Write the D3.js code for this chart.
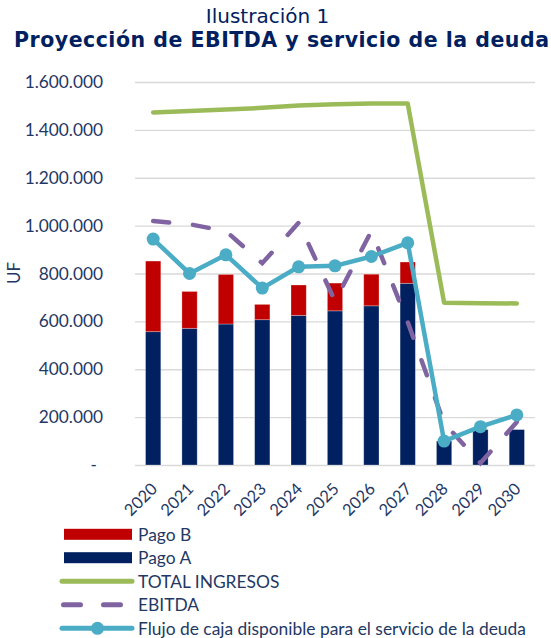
<!DOCTYPE html>
<html>
<head>
<meta charset="utf-8">
<script src="https://cdn.jsdelivr.net/npm/d3@7"></script>
<style>
  html, body { margin: 0; padding: 0; background: #ffffff; }
  svg { display: block; }
</style>
</head>
<body>
<script>
const years = ["2020","2021","2022","2023","2024","2025","2026","2027","2028","2029","2030"];
const pagoA = [557000, 571000, 589000, 607000, 625000, 644000, 665000, 759000, 100000, 148000, 148000];
const pagoB = [295000, 154000, 207000, 64000, 127000, 116000, 132000, 89000, 0, 0, 0];
const totalIngresos = [1473000, 1479000, 1485000, 1492000, 1502000, 1507000, 1510000, 1510000, 678000, 676000, 675000];
const ebitda = [1019000, 1006000, 977000, 843000, 1012000, 685000, 977000, 597000, 175000, 8000, 180000];
const flujo = [944000, 800000, 878000, 739000, 828000, 832000, 871000, 928000, 100000, 160000, 209000];
const yTicks = [0, 200000, 400000, 600000, 800000, 1000000, 1200000, 1400000, 1600000];

const W = 551, H = 638;
const C = { red: "#C00000", navy: "#002060", green: "#9BBB59", purple: "#8064A2", teal: "#4BACC6",
            grid: "#D9D9D9", text: "#1F3864", title: "#002060" };
const LABEL_FONT = "Lato, 'Noto Sans', sans-serif";

const svg = d3.select("body").append("svg").attr("width", W).attr("height", H);

// Titles
svg.append("text").attr("x", 267.5).attr("y", 22.5).attr("text-anchor", "middle")
  .attr("font-family", "'DejaVu Sans', Verdana, sans-serif").attr("font-size", 20)
  .attr("fill", C.title).text("Ilustración 1");
svg.append("text").attr("x", 281.5).attr("y", 46.5).attr("text-anchor", "middle")
  .attr("font-family", "'DejaVu Sans', Verdana, sans-serif").attr("font-size", 20.5).attr("font-weight", "bold")
  .attr("textLength", 535).attr("lengthAdjust", "spacing")
  .attr("fill", C.title).text("Proyección de EBITDA y servicio de la deuda");

const x = d3.scaleBand().domain(years).range([135, 535]).paddingInner(0.58).paddingOuter(0.29);
const y = d3.scaleLinear().domain([0, 1600000]).range([465, 82]);

// Gridlines
const grid = svg.append("g").attr("transform", "translate(135,0)")
  .call(d3.axisLeft(y).tickValues(yTicks).tickSize(-400).tickFormat(""));
grid.select(".domain").remove();
grid.selectAll(".tick line").attr("stroke", C.grid).attr("stroke-width", 1.4);

// Y axis labels
const fmt = v => v === 0 ? "-" : d3.format(",")(v).replace(/,/g, ".");
const yAxis = svg.append("g").attr("transform", "translate(103,0)")
  .call(d3.axisLeft(y).tickValues(yTicks).tickSize(0).tickPadding(0).tickFormat(fmt));
yAxis.select(".domain").remove();
yAxis.selectAll(".tick text").attr("font-family", LABEL_FONT).attr("font-size", 17.3).attr("fill", C.text)
  .attr("dx", d => d === 0 ? -6 : 0);

svg.append("text").attr("transform", "translate(20,273) rotate(-90)").attr("text-anchor", "middle")
  .attr("font-family", LABEL_FONT).attr("font-size", 17).attr("fill", C.text).text("UF");

// Stacked bars
const rows = years.map((yr, i) => ({ year: yr, A: pagoA[i], B: pagoB[i] }));
const stack = d3.stack().keys(["A", "B"])(rows);
const barColors = { A: C.navy, B: C.red };
svg.append("g").selectAll("g").data(stack).join("g").attr("fill", d => barColors[d.key])
  .selectAll("rect").data(d => d).join("rect")
  .attr("x", d => x(d.data.year)).attr("width", x.bandwidth())
  .attr("y", d => y(d[1])).attr("height", d => y(d[0]) - y(d[1]))
  .attr("stroke", "rgba(255,255,255,0.35)").attr("stroke-width", 0.8);

const cx = yr => x(yr) + x.bandwidth() / 2;
const line = d3.line().x((d, i) => cx(years[i])).y(d => y(d));

svg.append("path").datum(totalIngresos).attr("d", line).attr("fill", "none")
  .attr("stroke", C.green).attr("stroke-width", 4.5).attr("stroke-linejoin", "round").attr("stroke-linecap", "round");

svg.append("path").datum(ebitda).attr("d", line).attr("fill", "none")
  .attr("stroke", C.purple).attr("stroke-width", 4.5).attr("stroke-linecap", "round")
  .attr("stroke-dasharray", "16,24");

svg.append("path").datum(flujo).attr("d", line).attr("fill", "none")
  .attr("stroke", C.teal).attr("stroke-width", 4.5).attr("stroke-linejoin", "round").attr("stroke-linecap", "round");
svg.append("g").selectAll("circle").data(flujo).join("circle")
  .attr("cx", (d, i) => cx(years[i])).attr("cy", d => y(d)).attr("r", 6.5).attr("fill", C.teal);

// X labels
svg.append("g").selectAll("text").data(years).join("text")
  .attr("transform", d => `translate(${cx(d) + 5},490) rotate(-45)`)
  .attr("text-anchor", "end").attr("font-family", LABEL_FONT).attr("font-size", 16.5).attr("fill", C.text)
  .text(d => d);

// Legend
const lg = svg.append("g");
const lx0 = 64, lx1 = 132, ltx = 138;
const items = [
  { label: "Pago B", type: "rect", color: C.red, y: 534.3 },
  { label: "Pago A", type: "rect", color: C.navy, y: 557.7 },
  { label: "TOTAL INGRESOS", type: "line", color: C.green, y: 581.3 },
  { label: "EBITDA", type: "dash", color: C.purple, y: 604.8 },
  { label: "Flujo de caja disponible para el servicio de la deuda", type: "marker", color: C.teal, y: 628.3 }
];
items.forEach(it => {
  if (it.type === "rect") {
    lg.append("rect").attr("x", lx0).attr("y", it.y - 5.5).attr("width", lx1 - lx0).attr("height", 11).attr("fill", it.color);
  } else {
    const p = lg.append("line").attr("x1", 62).attr("x2", 132).attr("y1", it.y).attr("y2", it.y)
      .attr("stroke", it.color).attr("stroke-width", 5).attr("stroke-linecap", "round");
    if (it.type === "dash") p.attr("stroke-dasharray", "17,23").attr("x1", 63.5);
    if (it.type === "marker") lg.append("circle").attr("cx", 97.5).attr("cy", it.y).attr("r", 6.5).attr("fill", it.color);
  }
  lg.append("text").attr("x", ltx).attr("y", it.y).attr("dy", "0.36em")
    .attr("font-family", LABEL_FONT).attr("font-size", 17.4).attr("fill", C.text).text(it.label);
});
</script>
</body>
</html>
